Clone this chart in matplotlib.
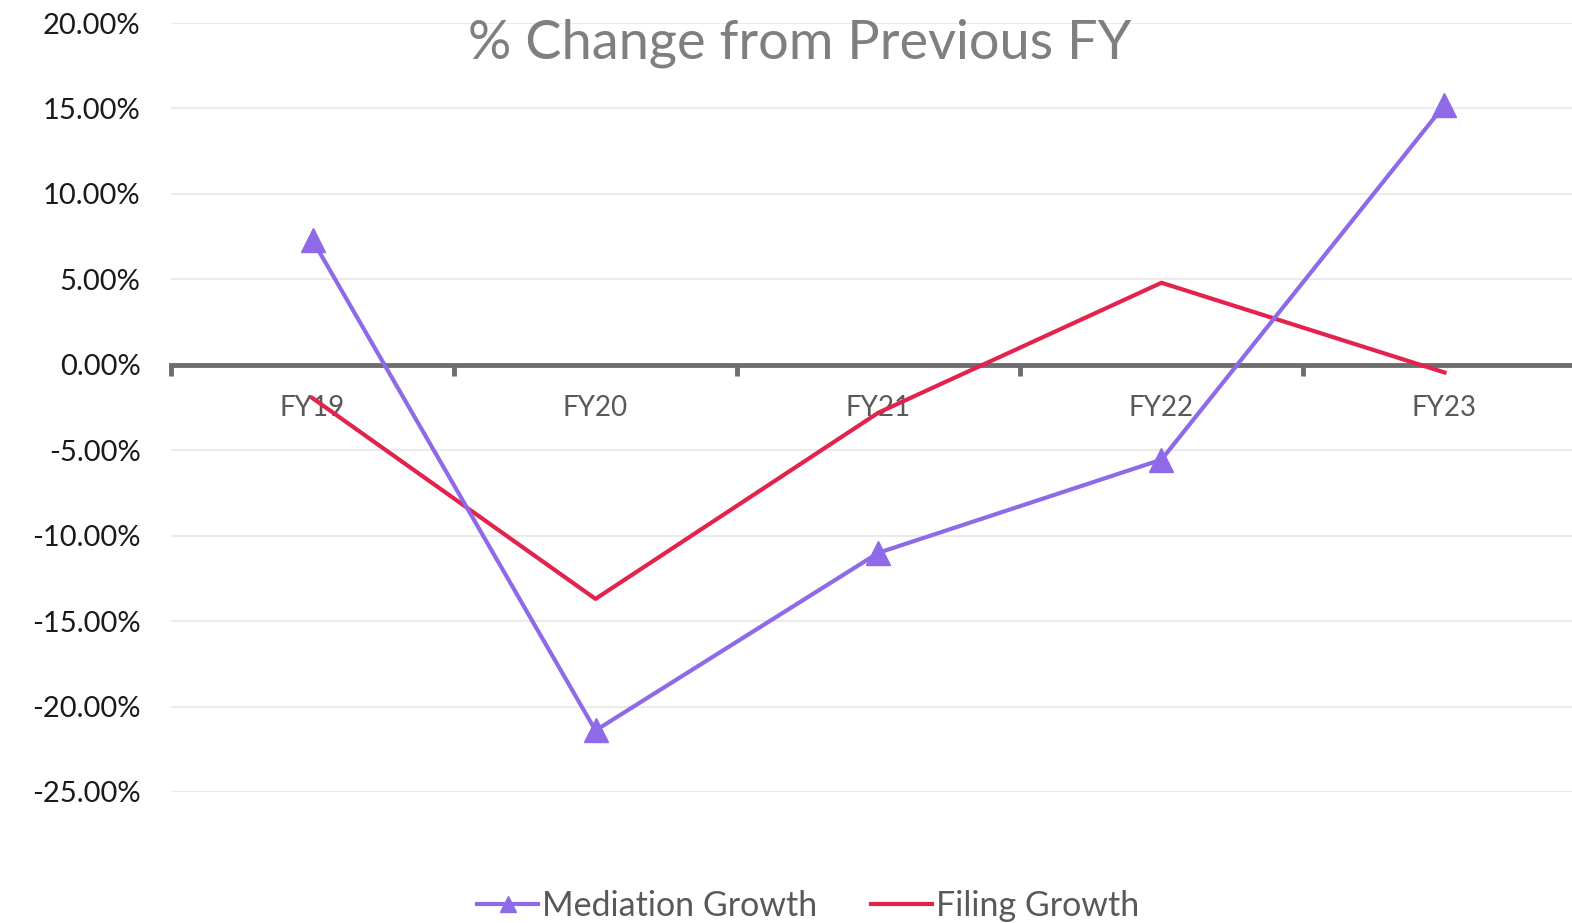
import matplotlib as mpl
mpl.use('Agg')
import matplotlib.pyplot as plt
import matplotlib.ticker as ticker

years = ['FY19', 'FY20', 'FY21', 'FY22', 'FY23']
mediation = [7.3, -21.4, -11.0, -5.55, 15.2]
filing = [-1.95, -13.7, -2.8, 4.8, -0.45]

plt.rcParams['font.family'] = ['Lato', 'DejaVu Sans']

fig = plt.figure(figsize=(15.72, 9.23), dpi=100)
ax = fig.add_axes([171/1572, 1 - 792/923, (1586 - 171)/1572, (792 - 23)/923])

x = list(range(len(years)))
ax.plot(x, mediation, color='#8f6ae8', linewidth=3, marker='^', markersize=17,
        label='Mediation Growth', zorder=4)
ax.plot(x, filing, color='#e3234e', linewidth=3, label='Filing Growth', zorder=3)

ax.set_ylim(-25, 20)
ax.set_xlim(-0.5, 4.5)
ax.yaxis.set_major_locator(ticker.MultipleLocator(5))
ax.yaxis.set_major_formatter(ticker.FuncFormatter(lambda v, p: f'{v:.2f}%'))
ax.grid(axis='y', color='#ebebeb', linewidth=1.5)
ax.set_axisbelow(True)

for s in ['top', 'right', 'left']:
    ax.spines[s].set_visible(False)
ax.spines['bottom'].set_position(('data', 0))
ax.spines['bottom'].set_color('#6d6d6d')
ax.spines['bottom'].set_linewidth(3.5)
ax.spines['bottom'].set_zorder(2)

ax.set_xticks(x)
ax.set_xticklabels(years)
ax.set_xticks([i - 0.5 for i in range(len(years) + 1)], minor=True)
ax.tick_params(axis='x', which='major', length=0, pad=22, labelsize=20, labelcolor='#595959')
ax.tick_params(axis='x', which='minor', length=8, width=3.5, color='#6d6d6d', direction='out')
ax.tick_params(axis='y', length=0, pad=22, labelsize=21, labelcolor='#1a1a1a')

fig.text(0.509, 0.953, '% Change from Previous FY', ha='center', va='center',
         fontsize=39, color='#7f7f7f')

fig.legend(loc='center', bbox_to_anchor=(0.514, 0.018), ncol=2, frameon=False,
           fontsize=24.5, labelcolor='#595959', handlelength=1.8, handletextpad=0.1,
           columnspacing=1.6, markerscale=0.7)

fig.savefig('out.png', dpi=100)
